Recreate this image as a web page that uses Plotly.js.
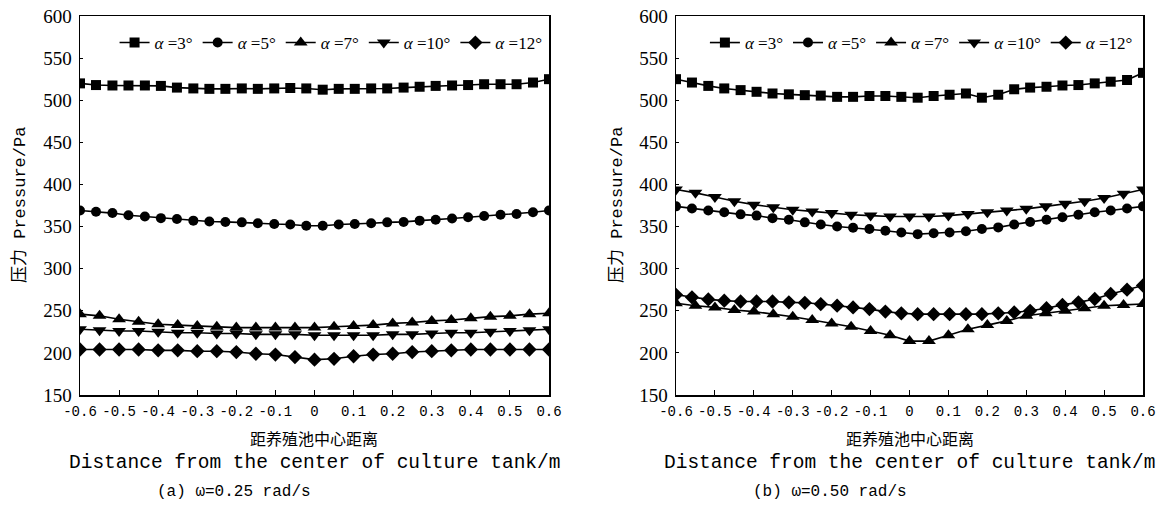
<!DOCTYPE html>
<html><head><meta charset="utf-8">
<script src="https://cdn.plot.ly/plotly-3.0.1.min.js"></script>
<style>html,body{margin:0;padding:0;background:#fff}#chart{width:1169px;height:509px}</style>
</head><body><div id="chart"></div>
<script>
// x positions
const x30 = [-0.6, -0.559, -0.517, -0.476, -0.434, -0.393, -0.352, -0.310, -0.269, -0.228, -0.186, -0.145, -0.103, -0.062, -0.021, 0.021, 0.062, 0.103, 0.145, 0.186, 0.228, 0.269, 0.310, 0.352, 0.393, 0.434, 0.476, 0.517, 0.559, 0.6];
const x25 = [-0.6, -0.55, -0.5, -0.45, -0.4, -0.35, -0.3, -0.25, -0.2, -0.15, -0.1, -0.05, 0, 0.05, 0.1, 0.15, 0.2, 0.25, 0.3, 0.35, 0.4, 0.45, 0.5, 0.55, 0.6];

// (a) omega = 0.25 rad/s
const a3L  = [520, 518, 517.5, 517.5, 517.5, 517, 515, 514, 513.5, 513.5, 514, 513.5, 514, 514.5, 514, 512.5, 513.5, 513.5, 514, 514, 515, 516, 517, 517.5, 518, 519, 519, 519, 521, 525];
const a5L  = [369, 367.5, 366, 363.5, 362, 360, 359, 357, 356, 355.5, 355, 354, 353, 352.5, 351, 351, 352.5, 353, 354, 355, 355.5, 357, 358, 359.5, 361, 362.5, 364, 365, 367, 369];
const a7L  = [246, 244, 240, 237, 234, 233, 232, 231, 230, 230, 230, 230, 230, 231, 232, 233, 235, 236, 238, 239, 241, 243, 244, 246, 247];
const a10L = [228, 227, 226, 226, 225, 224, 224, 223, 223, 222, 222, 222, 221, 221, 221, 221, 222, 222, 223, 224, 224, 225, 226, 227, 228];
const a12L = [204, 204, 204, 204, 203, 203, 202, 202, 201, 199, 198, 195, 192, 193, 196, 198, 199, 201, 202, 203, 204, 204, 204, 204, 204];

// (b) omega = 0.50 rad/s
const a3R  = [525, 521, 517, 514, 512, 510, 508, 507, 506, 505.5, 504, 504, 505, 505, 504, 503, 505, 506.5, 508, 503, 506.5, 513, 515, 516, 517.5, 518, 520, 522, 524, 532.5];
const a5R  = [374, 371.5, 369, 367, 364.5, 363, 360, 358, 355, 352.5, 350, 348.5, 347, 345, 343, 341, 342, 343, 344.5, 347, 349, 352.5, 355.5, 358, 361, 364, 367, 369, 371.5, 374];
const a7R  = [259, 256, 254, 251, 249, 246, 243, 239, 235, 231, 226, 221, 214, 214, 221, 228, 233, 238, 244, 247, 250, 253, 256, 257, 258];
const a10R = [394, 390, 385, 380, 376, 373, 370, 368, 366, 364, 363, 362, 362, 362, 363, 365, 367, 369, 371, 374, 377, 380, 384, 389, 394];
const a12R = [269, 266, 263.5, 262, 261, 261, 261, 260, 259.5, 258, 256, 254, 252, 249, 247, 246, 246, 246, 246, 246, 247, 248, 250, 253, 257, 260, 264, 270, 275, 280];

const seriesNames = ['<i>α</i> =3°', '<i>α</i> =5°', '<i>α</i> =7°', '<i>α</i> =10°', '<i>α</i> =12°'];
const symbols = ['square', 'circle', 'triangle-up', 'triangle-down', 'diamond'];
const markerSizes = [10, 10, 12, 12, 11];
const xTickVals = [-0.6, -0.5, -0.4, -0.3, -0.2, -0.1, 0, 0.1, 0.2, 0.3, 0.4, 0.5, 0.6];
const xTickText = ['-0.6', '-0.5', '-0.4', '-0.3', '-0.2', '-0.1', '0', '0.1', '0.2', '0.3', '0.4', '0.5', '0.6'];
const yTitle = '压力 Pressure/Pa';
const xTitleCn = '距养殖池中心距离';
const xTitleEn = 'Distance from the center of culture tank/m';
const subTitles = ['(a) ω=0.25 rad/s', '(b) ω=0.50 rad/s'];

const left = [[x30, a3L], [x30, a5L], [x25, a7L], [x25, a10L], [x25, a12L]];
const right = [[x30, a3R], [x30, a5R], [x25, a7R], [x25, a10R], [x30, a12R]];

const traces = [];
function add(set, xa, ya, leg) {
  set.forEach((s, i) => {
    traces.push({
      x: s[0], y: s[1], xaxis: xa, yaxis: ya, legend: leg,
      type: 'scatter', mode: 'lines+markers', name: seriesNames[i],
      line: {color: '#000', width: 1.6},
      marker: {symbol: symbols[i], size: markerSizes[i], color: '#000'}
    });
  });
}
add(left, 'x', 'y', 'legend');
add(right, 'x2', 'y2', 'legend2');

const W = 1169, H = 509;
const yDom = [(H - 395) / H, (H - 16) / H];
const axFont = {family: 'Liberation Mono, DejaVu Sans Mono, monospace', size: 14, color: '#000'};
const yFont = {family: 'Liberation Serif, serif', size: 19, color: '#000'};
function xax(dom, anchor) {
  return {domain: dom, anchor: anchor, range: [-0.6, 0.6], tickvals: xTickVals, ticktext: xTickText,
    ticks: 'inside', ticklen: 5, tickcolor: '#000', showline: true, linecolor: '#000', linewidth: 1.5,
    mirror: true, showgrid: false, zeroline: false, tickfont: axFont, ticklabelstandoff: 3};
}
function yax(anchor) {
  return {domain: yDom, anchor: anchor, range: [150, 600], dtick: 50, ticks: 'inside', ticklen: 3,
    tickcolor: '#000', showline: true, linecolor: '#000', linewidth: 1.5, mirror: true,
    showgrid: false, zeroline: false, tickfont: yFont, ticklabelstandoff: 3};
}
const xL = [80 / W, 549 / W], xR = [676 / W, 1143 / W];
const ann = [];
function addAnn(text, px, py, font, angle) {
  ann.push({text: text, x: px / W, y: (H - py) / H, xref: 'paper', yref: 'paper',
    xanchor: 'center', yanchor: 'middle', showarrow: false, font: font, textangle: angle || 0});
}
[[xL, 20], [xR, 617]].forEach((d, k) => {
  const cx = (d[0][0] + d[0][1]) / 2 * W;
  addAnn(yTitle, d[1], 205, {family: 'Liberation Mono, Noto Sans CJK SC', size: 17, color: '#000'}, -90);
  addAnn(xTitleCn, cx, 438, {family: 'Noto Sans CJK SC', size: 16, color: '#000'});
  addAnn(xTitleEn, cx, 463, {family: 'Liberation Mono, monospace', size: 19.5, color: '#000'});
  addAnn(subTitles[k], cx - 80, 492, {family: 'Liberation Mono, monospace', size: 16, color: '#000'});
});
const legFont = {family: 'Liberation Serif, serif', size: 17, color: '#000'};
const layout = {
  width: W, height: H, margin: {l: 0, r: 0, t: 0, b: 0},
  paper_bgcolor: '#fff', plot_bgcolor: '#fff', showlegend: true,
  xaxis: xax(xL, 'y'), yaxis: yax('x'), xaxis2: xax(xR, 'y2'), yaxis2: yax('x2'),
  legend: {orientation: 'h', x: 0.098, y: (H - 43) / H, yanchor: 'middle', xanchor: 'left',
    bgcolor: 'rgba(0,0,0,0)', font: legFont, itemwidth: 30, tracegroupgap: 0},
  legend2: {orientation: 'h', x: 0.603, y: (H - 43) / H, yanchor: 'middle', xanchor: 'left',
    bgcolor: 'rgba(0,0,0,0)', font: legFont, itemwidth: 30, tracegroupgap: 0},
  annotations: ann
};
Plotly.newPlot('chart', traces, layout, {staticPlot: true});
</script></body></html>
